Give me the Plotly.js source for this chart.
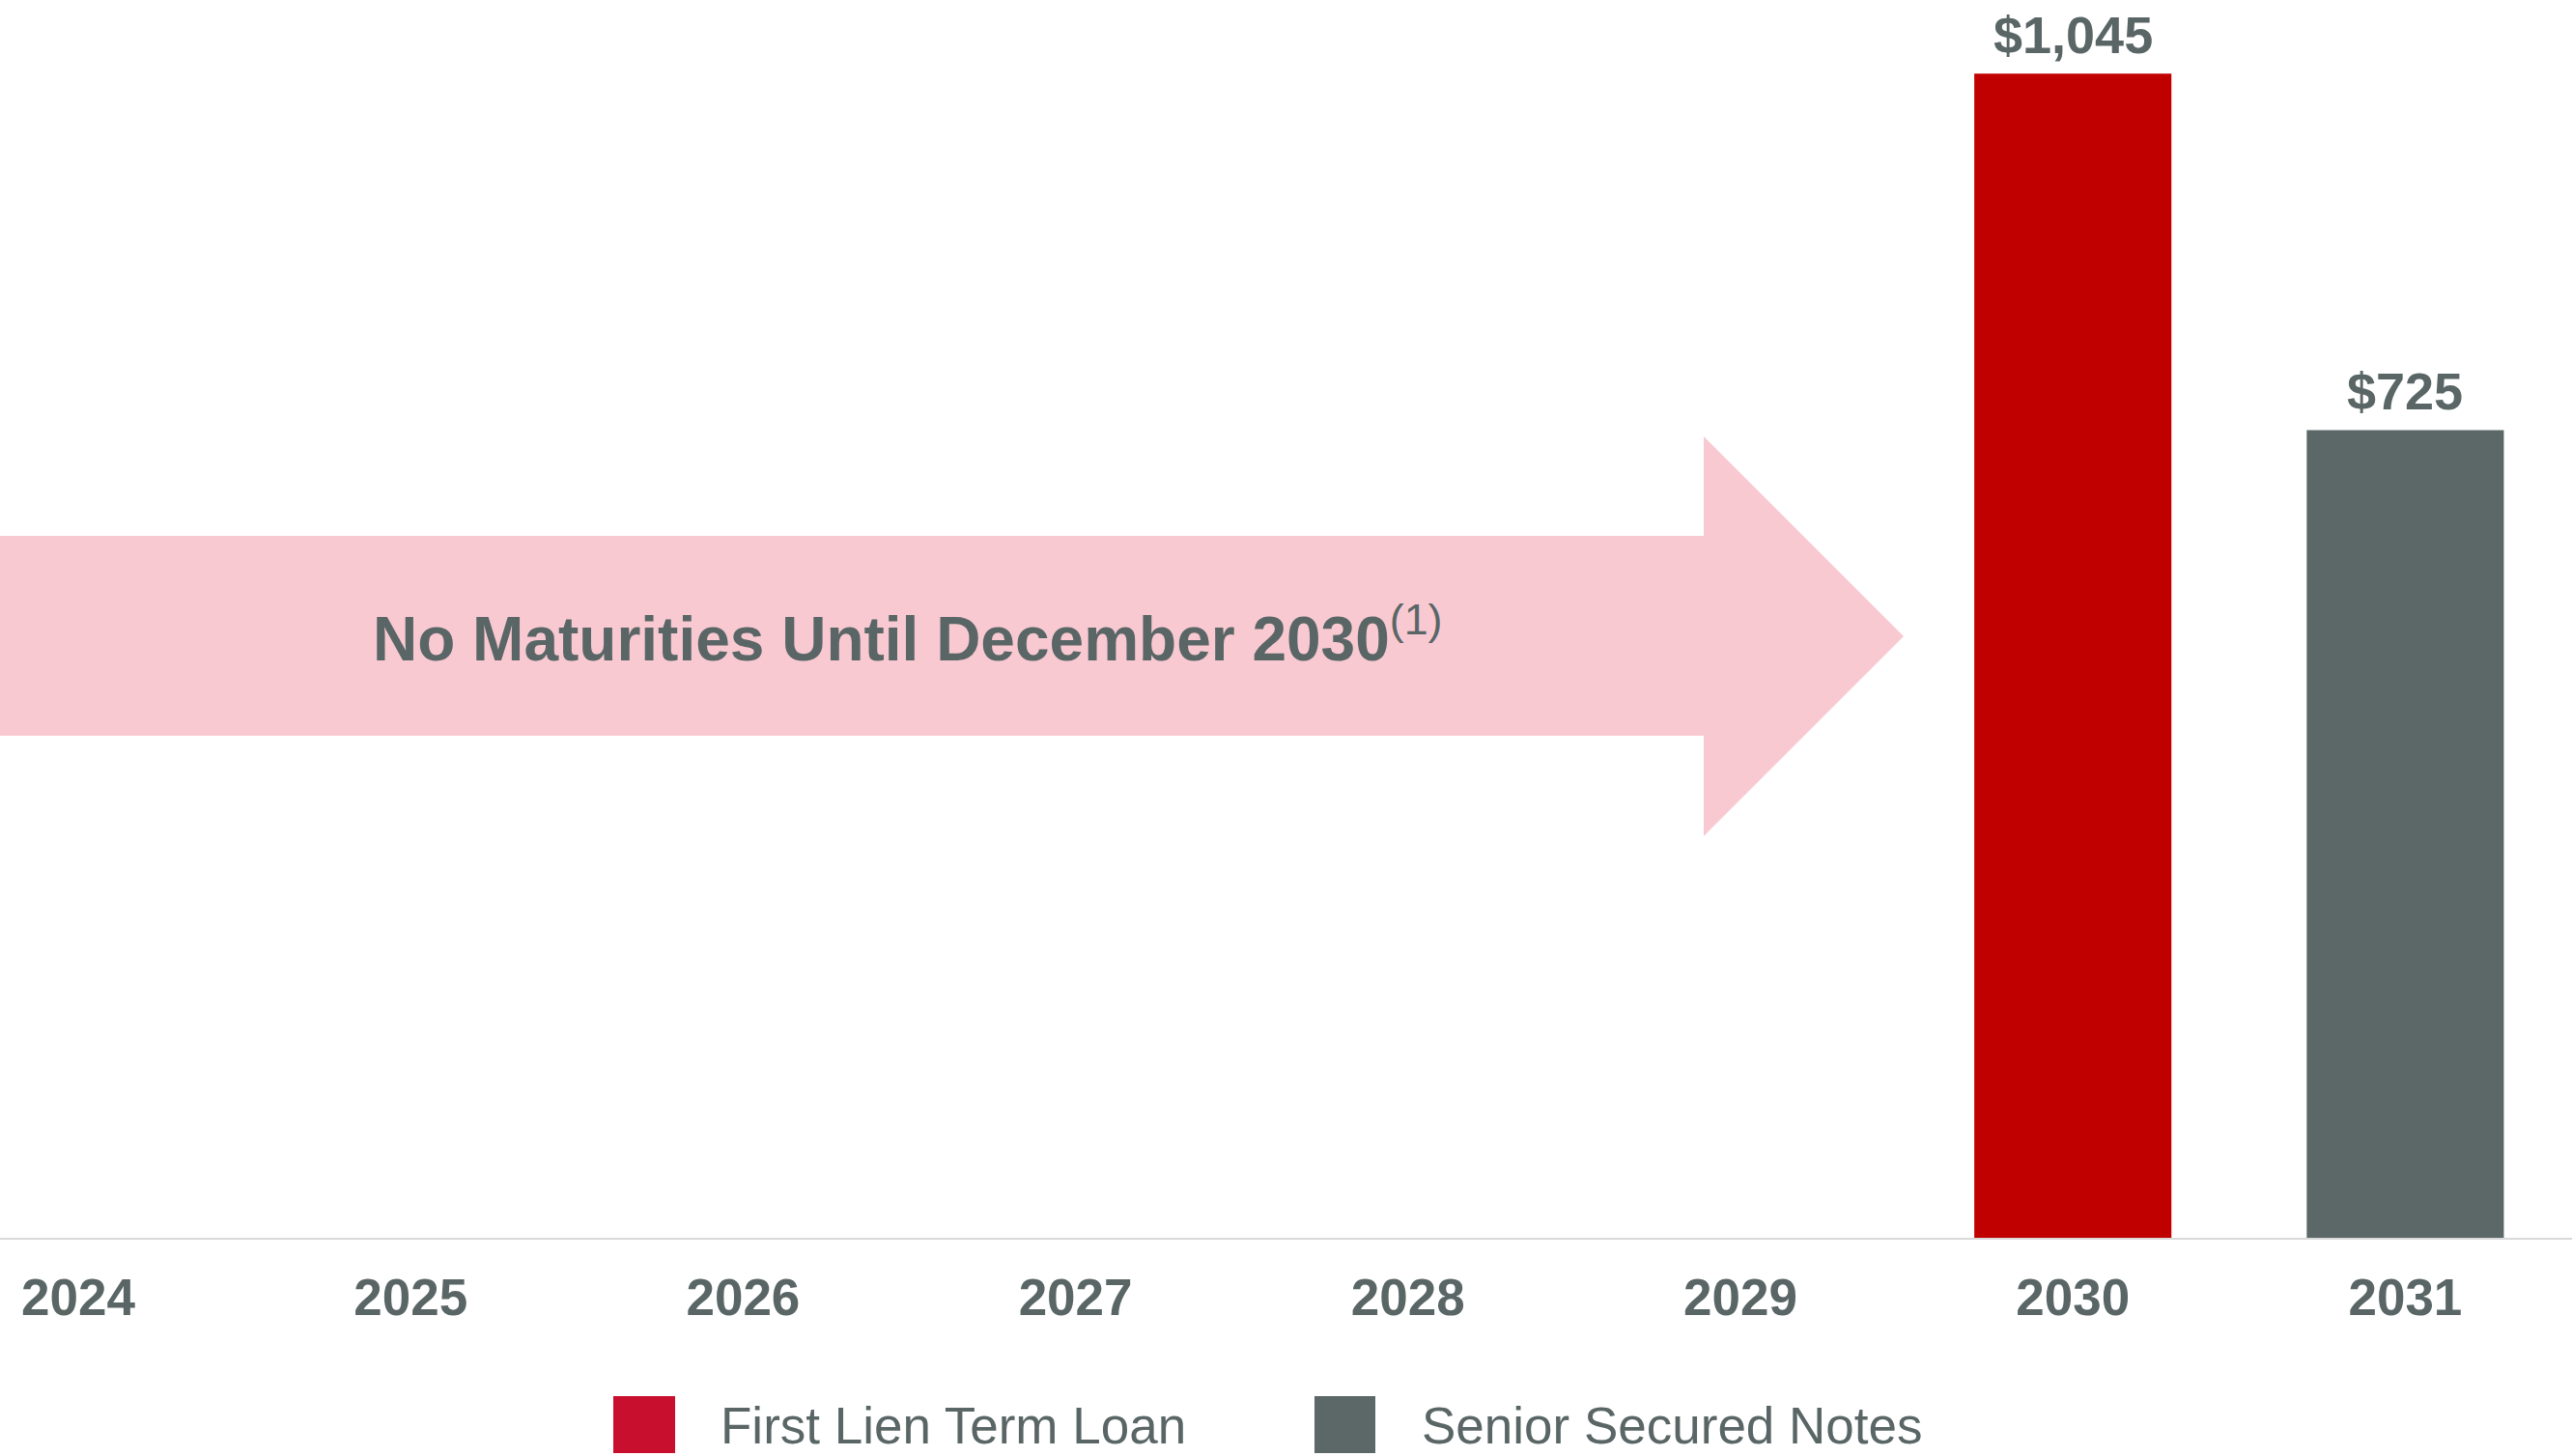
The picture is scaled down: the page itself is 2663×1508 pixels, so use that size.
<!DOCTYPE html>
<html>
<head>
<meta charset="utf-8">
<script src="https://cdn.plot.ly/plotly-3.0.1.min.js"></script>
<style>
html,body{margin:0;padding:0;background:#fff;}
#chart{width:2663px;height:1508px;}
</style>
</head>
<body>
<div id="chart"></div>
<script>
// ---- data ----
const years = ['2024','2025','2026','2027','2028','2029','2030','2031'];
const seriesNames = ['First Lien Term Loan','Senior Secured Notes'];
const termLoan = [null,null,null,null,null,null,1045,null];
const securedNotes = [null,null,null,null,null,null,null,725];
const arrowText = 'No Maturities Until December 2030';
const arrowNote = '(1)';

// ---- styles ----
const FONT = '"Liberation Sans", Arial, Helvetica, sans-serif';
const TXT = '#5A6666';
const RED = '#C00000';
const GRAY = '#5B6867';
const LEG_RED = '#C8102E';
const PINK = '#F9C9D2';

const W = 2663, H = 1508;
const PLOT_BOTTOM = 1282; // px of baseline
const px = x => x / W;
const py = y => (PLOT_BOTTOM - y) / PLOT_BOTTOM;

const common = {
  type: 'bar',
  x: years,
  width: 0.593,
  hoverinfo: 'skip',
  showlegend: false
};

const traces = [
  Object.assign({}, common, {y: termLoan, name: seriesNames[0], marker: {color: RED}}),
  Object.assign({}, common, {y: securedNotes, name: seriesNames[1], marker: {color: GRAY}})
];

const shapes = [
  {type: 'path', xref: 'paper', yref: 'paper', layer: 'below',
   path: `M ${px(0)},${py(555)} L ${px(1764)},${py(555)} L ${px(1764)},${py(452)} L ${px(1971)},${py(659)} L ${px(1764)},${py(866)} L ${px(1764)},${py(762)} L ${px(0)},${py(762)} Z`,
   fillcolor: PINK, line: {width: 0}},
  // legend swatches
  {type: 'rect', xref: 'paper', yref: 'paper', x0: px(635), x1: px(699), y0: py(1446), y1: py(1505),
   fillcolor: LEG_RED, line: {width: 0}},
  {type: 'rect', xref: 'paper', yref: 'paper', x0: px(1361), x1: px(1424), y0: py(1446), y1: py(1505),
   fillcolor: GRAY, line: {width: 0}}
];

const annotations = [
  {xref: 'paper', yref: 'paper', x: px(384), y: py(657), xanchor: 'left', yanchor: 'middle',
   showarrow: false,
   text: '<b>' + arrowText + '</b><span style="font-weight:normal"><sup>' + arrowNote + '</sup></span>',
   font: {family: FONT, size: 64, color: TXT}},
  {xref: 'paper', yref: 'paper', x: px(744), y: py(1476), xanchor: 'left', yanchor: 'middle',
   showarrow: false, text: seriesNames[0], font: {family: FONT, size: 53, color: TXT}},
  {xref: 'paper', yref: 'paper', x: px(1470), y: py(1476), xanchor: 'left', yanchor: 'middle',
   showarrow: false, text: seriesNames[1], font: {family: FONT, size: 53, color: TXT}}
];

// value labels above bars, placed through the data scales (category index)
[termLoan, securedNotes].forEach(series => {
  series.forEach((v, i) => {
    if (v == null) return;
    annotations.push({
      xref: 'x', yref: 'y', x: i, y: v,
      xanchor: 'center', yanchor: 'bottom', yshift: 8,
      showarrow: false,
      text: '<b>$' + v.toLocaleString('en-US') + '</b>',
      font: {family: FONT, size: 54, color: TXT}
    });
  });
});

const layout = {
  width: W, height: H,
  margin: {l: 0, r: 0, t: 0, b: H - PLOT_BOTTOM, pad: 0},
  paper_bgcolor: '#ffffff', plot_bgcolor: '#ffffff',
  barmode: 'overlay',
  showlegend: false,
  xaxis: {
    type: 'category',
    range: [-0.2353, 7.5015],
    showline: true, linecolor: '#D9D9D9', linewidth: 2,
    showgrid: false, zeroline: false, ticks: '',
    ticklabelstandoff: 14,
    tickfont: {family: FONT, size: 53, color: TXT, weight: 'bold'},
    fixedrange: true
  },
  yaxis: {
    range: [0, 1111],
    visible: false, showgrid: false, zeroline: false,
    fixedrange: true
  },
  shapes: shapes,
  annotations: annotations,
  font: {family: FONT, color: TXT}
};

Plotly.newPlot('chart', traces, layout, {displayModeBar: false, staticPlot: true});
</script>
</body>
</html>
